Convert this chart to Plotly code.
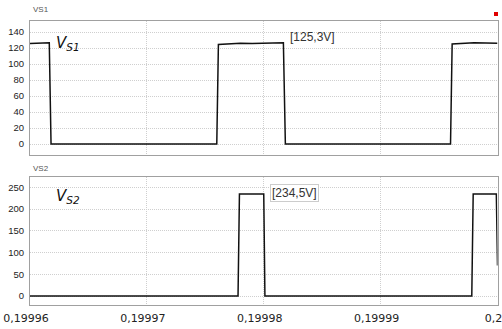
import plotly.graph_objects as go

# ---- data ----
t_vs1 = [0.19996000, 0.19996080, 0.19996165, 0.19996180, 0.19997598, 0.19997612,
         0.19997700, 0.19997800, 0.19997900, 0.19998000, 0.19998168, 0.19998185,
         0.19999598, 0.19999612, 0.19999700, 0.19999800, 0.20000000]
v_vs1 = [125.5, 126.0, 126.5, 0.0, 0.0, 124.5,
         125.0, 126.0, 125.5, 126.0, 126.5, 0.0,
         0.0, 125.0, 126.0, 126.5, 126.0]

t_vs2 = [0.19996000, 0.19997780, 0.19997792, 0.19998000, 0.19998010,
         0.19999780, 0.19999792, 0.19999990, 0.20000000]
v_vs2 = [0.0, 0.0, 234.5, 234.5, 0.0,
         0.0, 234.5, 234.5, 70.0]

x_ticks = [0.19996, 0.19997, 0.19998, 0.19999, 0.2]
x_ticktext = ["0,19996", "0,19997", "0,19998", "0,19999", "0,2"]
y1_ticks = [0, 20, 40, 60, 80, 100, 120, 140]
y2_ticks = [0, 50, 100, 150, 200, 250]

W, H = 502, 329
def px_x(p):
    return p / W
def px_y(p):
    return 1 - p / H

fig = go.Figure()
fig.add_trace(go.Scatter(x=t_vs1, y=v_vs1, mode="lines", line=dict(color="#111111", width=1.5),
                         xaxis="x", yaxis="y", showlegend=False, hoverinfo="skip"))
fig.add_trace(go.Scatter(x=t_vs2, y=v_vs2, mode="lines", line=dict(color="#111111", width=1.5),
                         xaxis="x2", yaxis="y2", showlegend=False, hoverinfo="skip"))

grid = dict(showgrid=True, gridcolor="#cfcfcf", griddash="1px,1px", gridwidth=1,
            showline=True, linecolor="#a0a0a0", linewidth=1, mirror=True,
            zeroline=False, ticks="", automargin=False)
xrange = [0.19996, 0.2]
xdom = [px_x(30), px_x(497.5)]
yfont = dict(size=9.5, family="Liberation Sans", color="#222")

fig.update_layout(
    width=W, height=H, margin=dict(l=0, r=0, t=0, b=0, autoexpand=False),
    paper_bgcolor="white", plot_bgcolor="white",
    font=dict(family="DejaVu Sans", color="#222222"),
    xaxis=dict(domain=xdom, range=xrange, anchor="y", tickvals=x_ticks, showticklabels=False, **grid),
    yaxis=dict(domain=[px_y(155), px_y(21)], range=[-13.75, 153.75], tickvals=y1_ticks,
               tickfont=yfont, ticklabelstandoff=3, **grid),
    xaxis2=dict(domain=xdom, range=xrange, anchor="y2", tickvals=x_ticks, ticktext=x_ticktext,
                tickfont=dict(size=11, family="DejaVu Sans", color="#222"), ticklabelstandoff=3,
                ticklabelshift=-4, ticklabeloverflow="allow", **grid),
    yaxis2=dict(domain=[px_y(305), px_y(177.3)], range=[-20.7, 273], tickvals=y2_ticks,
                tickfont=yfont, ticklabelstandoff=3, **grid),
)

ann = []
ann.append(dict(xref="paper", yref="paper", x=px_x(31), y=px_y(10), text="VS1", showarrow=False,
                xanchor="left", yanchor="middle", font=dict(size=8, color="#555", family="Liberation Sans")))
ann.append(dict(xref="paper", yref="paper", x=px_x(31), y=px_y(168), text="VS2", showarrow=False,
                xanchor="left", yanchor="middle", font=dict(size=8, color="#555", family="Liberation Sans")))
ann.append(dict(xref="paper", yref="paper", x=px_x(54), y=px_y(43), text="<i>V<sub>S1</sub></i>",
                showarrow=False, xanchor="left", yanchor="middle",
                font=dict(size=15, color="#111", family="DejaVu Sans")))
ann.append(dict(xref="paper", yref="paper", x=px_x(54), y=px_y(196), text="<i>V<sub>S2</sub></i>",
                showarrow=False, xanchor="left", yanchor="middle",
                font=dict(size=15, color="#111", family="DejaVu Sans")))
ann.append(dict(xref="paper", yref="paper", x=px_x(312), y=px_y(37), text="[125,3V]",
                showarrow=False, xanchor="center", yanchor="middle", borderpad=1,
                font=dict(size=12, color="#333", family="Liberation Sans")))
ann.append(dict(xref="paper", yref="paper", x=px_x(294), y=px_y(193), text="[234,5V]",
                showarrow=False, xanchor="center", yanchor="middle", bordercolor="#cccccc",
                borderwidth=1, borderpad=1, bgcolor="white",
                font=dict(size=12, color="#333", family="Liberation Sans")))
ann.append(dict(xref="paper", yref="paper", x=px_x(264), y=px_y(326), text="Time (s)",
                showarrow=False, xanchor="center", yanchor="top",
                font=dict(size=10, color="#555", family="Liberation Sans")))
fig.update_layout(annotations=ann)

fig.add_shape(type="rect", xref="paper", yref="paper", x0=px_x(494), x1=px_x(498),
              y0=px_y(16), y1=px_y(12), fillcolor="#e00000", line=dict(width=0))

fig.write_html("out.html", config={"displayModeBar": False},
               post_script="document.body.style.margin='0';document.body.style.overflow='hidden';")
